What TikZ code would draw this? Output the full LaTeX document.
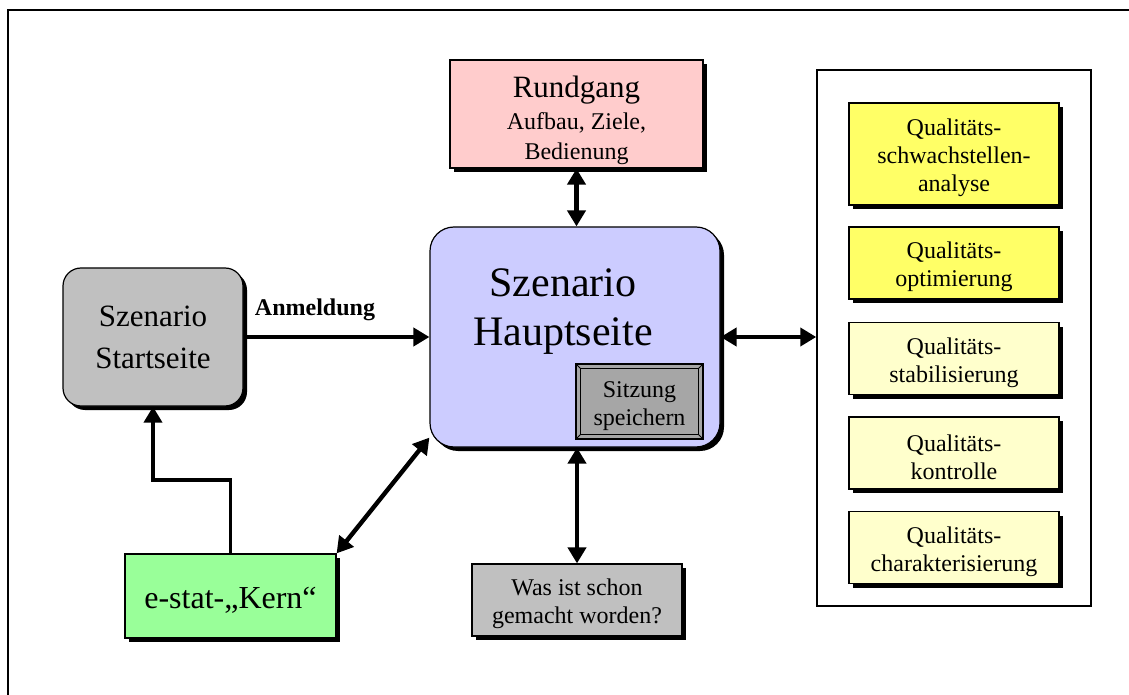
\documentclass[tikz,border=0pt]{standalone}
\usepackage{fontspec}
\setmainfont{Liberation Serif}
\usetikzlibrary{arrows.meta,shadows,calc}

\newcommand{\qstrut}{\rule{0pt}{12.5pt}}

\tikzset{every picture/.style={line width=0.75pt}}
\tikzset{
  kasten/.style={draw, line width=0.6pt, inner sep=1pt, align=center, font=\fontsize{12}{14}\selectfont,
    drop shadow={shadow xshift=2pt, shadow yshift=-2pt, opacity=1, fill=black}},
  rundkasten/.style={kasten, rounded corners=11pt},
  knopf/.style={draw, line width=0.6pt, inner sep=1pt, align=center, font=\fontsize{12}{14}\selectfont,
    fill={rgb, 255:red, 166; green, 166; blue, 166 }},
  pfeil/.style={line width=2.2pt, -{Triangle[length=8pt,width=9pt]}},
  doppelpfeil/.style={line width=2.2pt, {Triangle[length=8pt,width=9pt]}-{Triangle[length=8pt,width=9pt]}},
  qbox/.style={kasten, minimum width=105pt, minimum height=36pt},
}

\begin{document}
\begin{tikzpicture}[x=0.5pt,y=0.5pt,yscale=-1,xscale=1]
\useasboundingbox (0,0) rectangle (1129,695);

%Frame
\draw [line width=1pt] (8,695) -- (8,10) -- (1129,10) ;

%Shape: Rectangle [Rundgang]
\node [kasten, fill={rgb, 255:red, 255; green, 204; blue, 204 }, font=\fontsize{12}{15}\selectfont, minimum width=126.5pt, minimum height=54pt] (rundgang) at (576.5,114) {{\fontsize{15.5}{17}\selectfont\rule{0pt}{17pt}Rundgang}\\[1pt]Aufbau, Ziele,\\Bedienung};
%Shape: Rounded Rect [Hauptseite]
\node [rundkasten, rounded corners=12pt, fill={rgb, 255:red, 204; green, 204; blue, 255 }, minimum width=145pt, minimum height=110pt] (haupt) at (575,337) {};
% Text Node
\node [font=\fontsize{21}{24.5}\selectfont, align=center] (hauptText) at (563,312) {Szenario\\Hauptseite};
%Shape: Button [Sitzung]
\node [knopf, minimum width=63.5pt, minimum height=37.5pt] (sitzung) at (639.5,401.5) {\qstrut Sitzung\\speichern};
\draw [line width=0.4pt] ($(sitzung.north west)+(5,5)$) rectangle ($(sitzung.south east)+(-5,-5)$) ;
\draw [line width=0.4pt] (sitzung.north west) -- ($(sitzung.north west)+(5,5)$) (sitzung.north east) -- ($(sitzung.north east)+(-5,5)$) (sitzung.south west) -- ($(sitzung.south west)+(5,-5)$) (sitzung.south east) -- ($(sitzung.south east)+(-5,-5)$) ;

%Shape: Rounded Rect [Startseite]
\node [rundkasten, rounded corners=9pt, fill={rgb, 255:red, 192; green, 192; blue, 192 }, font=\fontsize{15.5}{21}\selectfont, minimum width=90pt, minimum height=69pt] (start) at (153,337) {Szenario\\Startseite};
%Shape: Rectangle [Kern]
\node [kasten, fill={rgb, 255:red, 153; green, 255; blue, 153 }, font=\fontsize{16}{19}\selectfont, minimum width=105.5pt, minimum height=42pt] (estat) at (230.5,596) {\rule{0pt}{15pt}e-stat-„Kern“};
%Shape: Rectangle [Was]
\node [kasten, fill={rgb, 255:red, 192; green, 192; blue, 192 }, minimum width=105pt, minimum height=36pt] (was) at (577,600) {\qstrut Was ist schon\\gemacht worden?};

%Shape: Rectangle [Bereich]
\node [draw, line width=0.75pt, minimum width=137pt, minimum height=268pt] (bereich) at (954,338) {};
\node [qbox, fill={rgb, 255:red, 255; green, 255; blue, 102 }, minimum height=51pt] (q1) at (954,154) {\qstrut Qualitäts-\\schwachstellen-\\analyse};
\node [qbox, fill={rgb, 255:red, 255; green, 255; blue, 102 }] (q2) at (954,263) {\qstrut Qualitäts-\\optimierung};
\node [qbox, fill={rgb, 255:red, 255; green, 255; blue, 204 }] (q3) at (954,358.5) {\qstrut Qualitäts-\\stabilisierung};
\node [qbox, fill={rgb, 255:red, 255; green, 255; blue, 204 }] (q4) at (954,453) {\qstrut Qualitäts-\\kontrolle};
\node [qbox, fill={rgb, 255:red, 255; green, 255; blue, 204 }] (q5) at (954,547.5) {\qstrut Qualitäts-\\charakterisierung};

%Straight Lines
\draw [doppelpfeil] (rundgang.south) -- (rundgang.south |- haupt.north) ;
\draw [pfeil] (start.east) -- (start.east -| haupt.west) ;
\draw [doppelpfeil] (haupt.east) -- (haupt.east -| bereich.west) ;
\draw [doppelpfeil] (haupt.south -| was.north) -- (was.north) ;
\draw [doppelpfeil] (estat.north east) -- ($(haupt.south west)+(0,-10)$) ;
\coordinate (knick) at (153,480) ;
\draw [pfeil, line width=1.8pt] (estat.north) |- (knick) -- (start.south) ;

% Text Node
\node [font=\bfseries\fontsize{12}{14}\selectfont] (anmeldung) at (315,310) {Anmeldung};

\end{tikzpicture}
\end{document}
